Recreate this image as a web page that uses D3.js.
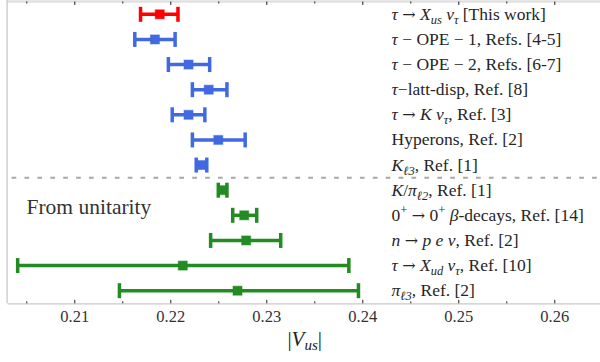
<!DOCTYPE html>
<html><head><meta charset="utf-8">
<script src="https://cdn.jsdelivr.net/npm/d3@7"></script>
</head><body style="margin:0"><div id="chart"></div>
<script>
// ---- data ----
// label segments: [text, style] style: r roman, i italic, a arrow, is italic sub, rp roman sup
const labels = [
  [["τ","i"],[" ","r"],["→","a"],[" ","r"],["X","i"],["us","is"],[" ","r"],["ν","i"],["τ","is"],[" [This work]","r"]],
  [["τ","i"],[" − OPE − 1, Refs. [4-5]","r"]],
  [["τ","i"],[" − OPE − 2, Refs. [6-7]","r"]],
  [["τ","i"],["−latt-disp, Ref. [8]","r"]],
  [["τ","i"],[" ","r"],["→","a"],[" ","r"],["K","i"],[" ","r"],["ν","i"],["τ","is"],[", Ref. [3]","r"]],
  [["Hyperons, Ref. [2]","r"]],
  [["K","i"],["ℓ3","is"],[", Ref. [1]","r"]],
  [["K","i"],["/","r"],["π","i"],["ℓ2","is"],[", Ref. [1]","r"]],
  [["0","r"],["+","rp"],[" ","r"],["→","a"],[" 0","r"],["+","rp"],[" ","r"],["β","i"],["-decays, Ref. [14]","r"]],
  [["n","i"],[" ","r"],["→","a"],[" ","r"],["p e ν","i"],[", Ref. [2]","r"]],
  [["τ","i"],[" ","r"],["→","a"],[" ","r"],["X","i"],["ud","is"],[" ","r"],["ν","i"],["τ","is"],[", Ref. [10]","r"]],
  [["π","i"],["ℓ3","is"],[", Ref. [2]","r"]]
];
const centers = [0.2189, 0.2184, 0.2219, 0.2240, 0.2219, 0.2250, 0.2233, 0.2254, 0.2277, 0.2279, 0.2213, 0.2270];
const lows    = [0.2169, 0.2163, 0.2198, 0.2223, 0.2202, 0.2223, 0.2227, 0.2250, 0.2265, 0.2242, 0.2041, 0.2147];
const highs   = [0.2208, 0.2205, 0.2241, 0.2259, 0.2236, 0.2278, 0.2238, 0.2259, 0.2290, 0.2315, 0.2386, 0.2396];
const groups  = ["this","tau","tau","tau","tau","other","other","unit","unit","unit","unit","unit"];
const majorTicks = [0.21, 0.22, 0.23, 0.24, 0.25, 0.26];
const minorTicks = [0.205, 0.215, 0.225, 0.235, 0.245, 0.255, 0.265];
const xTitle = "V";
const xTitleSub = "us";
const unitarityText = "From unitarity";

// ---- chart ----
const W = 600, H = 362;
const colors = {this: "#ff0000", tau: "#4169e1", other: "#4169e1", unit: "#228b22"};
const svg = d3.select("#chart").append("svg").attr("width", W).attr("height", H)
  .style("display", "block").attr("font-family", "Liberation Serif");
const idx = d3.range(labels.length);
const x = d3.scaleLinear().domain([0.203, 0.265]).range([7.1, 602.3]);
const y = d3.scalePoint().domain(idx).range([14.3, 290.7]);
const plotTop = 1.5, plotBottom = 303.3;

// spines
svg.append("line").attr("x1", x.range()[0]).attr("x2", W).attr("y1", plotTop).attr("y2", plotTop)
  .attr("stroke", "#e0e0e0").attr("stroke-width", 2.5);
svg.append("line").attr("x1", x.range()[0]).attr("x2", x.range()[0]).attr("y1", 0).attr("y2", plotBottom)
  .attr("stroke", "#c8c8c8").attr("stroke-width", 1.3);

// bottom axis
const gB = svg.append("g").attr("transform", `translate(0,${plotBottom})`)
  .call(d3.axisBottom(x).tickValues(majorTicks).tickSize(-3.5).tickSizeOuter(0).tickFormat(d3.format(".2f")));
gB.attr("font-family", "Liberation Serif");
gB.select(".domain").attr("stroke", "#c8c8c8").attr("stroke-width", 1.3);
gB.selectAll(".tick line").attr("stroke", "#222");
gB.selectAll(".tick text").attr("y", 18.5).attr("dy", 0)
  .attr("font-size", 16.5).attr("fill", "#333");
const gBm = svg.append("g").attr("transform", `translate(0,${plotBottom})`)
  .call(d3.axisBottom(x).tickValues(minorTicks).tickSize(-2).tickSizeOuter(0).tickFormat(""));
gBm.select(".domain").remove();
gBm.selectAll(".tick line").attr("stroke", "#222");
// top axis ticks
const gT = svg.append("g").attr("transform", `translate(0,${plotTop})`)
  .call(d3.axisTop(x).tickValues(majorTicks).tickSize(-3.5).tickSizeOuter(0).tickFormat(""));
gT.select(".domain").remove();
gT.selectAll(".tick line").attr("stroke", "#222");
const gTm = svg.append("g").attr("transform", `translate(0,${plotTop})`)
  .call(d3.axisTop(x).tickValues(minorTicks).tickSize(-2).tickSizeOuter(0).tickFormat(""));
gTm.select(".domain").remove();
gTm.selectAll(".tick line").attr("stroke", "#222");

// separator dashed line
const sepY = (y(6) + y(7)) / 2;
svg.append("line").attr("x1", x.range()[0]).attr("x2", W).attr("y1", sepY).attr("y2", sepY)
  .attr("stroke", "#a8a8a8").attr("stroke-width", 2).attr("stroke-dasharray", "4.7,8.2")
  .attr("stroke-dashoffset", -4.5);

// error bars
const rows = svg.append("g").selectAll("g").data(idx).join("g");
rows.append("line")
  .attr("x1", i => x(lows[i])).attr("x2", i => x(highs[i]))
  .attr("y1", i => y(i)).attr("y2", i => y(i))
  .attr("stroke", i => colors[groups[i]]).attr("stroke-width", 3.5);
rows.selectAll("rect.cap").data(i => [[i, lows[i]], [i, highs[i]]]).join("rect").attr("class", "cap")
  .attr("x", d => x(d[1]) - 1.75).attr("y", d => y(d[0]) - 7.5)
  .attr("width", 3.5).attr("height", 15).attr("fill", d => colors[groups[d[0]]]);
rows.append("rect")
  .attr("x", i => x(centers[i]) - 4.5).attr("y", i => y(i) - 4.5)
  .attr("width", 9).attr("height", 9)
  .attr("fill", i => colors[groups[i]])
  .attr("stroke", i => colors[groups[i]]).attr("stroke-opacity", 0.45).attr("stroke-width", 1.2);

// labels
const lab = svg.append("g").attr("font-size", 17.5).attr("fill", "#262626");
idx.forEach(i => {
  const t = lab.append("text").attr("x", 391.5).attr("y", y(i) + 5.5);
  let shift = 0;
  labels[i].forEach(([s, st]) => {
    const sp = t.append("tspan").text(s);
    let target = 0;
    if (st === "is" || st === "rs") target = 4;
    if (st === "rp") target = -6.5;
    sp.attr("dy", target - shift); shift = target;
    if (st === "i" || st === "is") sp.attr("font-style", "italic");
    if (st === "is" || st === "rs" || st === "rp") sp.attr("font-size", 12.5);
    if (st === "a") sp.attr("font-family", "DejaVu Serif").attr("font-size", 16);
  });
});

// "From unitarity"
svg.append("text").attr("x", 26.5).attr("y", 214.3)
  .attr("font-size", 21.5).attr("fill", "#333")
  .text(unitarityText);

// x title
const xt = svg.append("text").attr("x", (x.range()[0] + x.range()[1]) / 2).attr("y", 346)
  .attr("text-anchor", "middle").attr("font-size", 21).attr("fill", "#222");
xt.append("tspan").text("|");
xt.append("tspan").text(xTitle).attr("font-style", "italic");
xt.append("tspan").text(xTitleSub).attr("font-style", "italic").attr("font-size", 15).attr("dy", 4);
xt.append("tspan").text("|").attr("dy", -4);
</script></body></html>
